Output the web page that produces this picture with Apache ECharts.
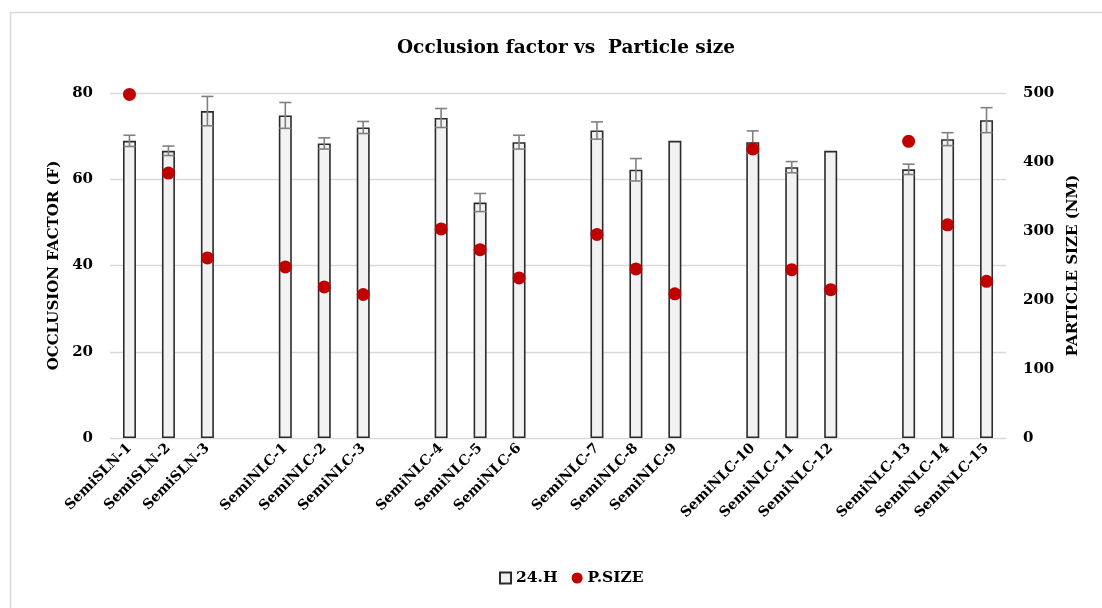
<!DOCTYPE html>
<html>
<head>
<meta charset="utf-8">
<script src="https://cdn.jsdelivr.net/npm/echarts@6/dist/echarts.min.js"></script>
<style>
html,body{margin:0;padding:0;background:#fff;}
#chart{width:1102px;height:608px;}
</style>
</head>
<body>
<div id="chart"></div>
<script>
// ---- data ----
const categories = ['SemiSLN-1','SemiSLN-2','SemiSLN-3','',
  'SemiNLC-1','SemiNLC-2','SemiNLC-3','',
  'SemiNLC-4','SemiNLC-5','SemiNLC-6','',
  'SemiNLC-7','SemiNLC-8','SemiNLC-9','',
  'SemiNLC-10','SemiNLC-11','SemiNLC-12','',
  'SemiNLC-13','SemiNLC-14','SemiNLC-15'];
const occlusion24h = [68.9,66.6,75.8,null,
  74.8,68.3,72.0,null,
  74.2,54.6,68.6,null,
  71.3,62.2,68.9,null,
  68.6,62.8,66.6,null,
  62.3,69.3,73.7];
const occlusionErr = [1.3,1.1,3.4,null,
  3.0,1.3,1.4,null,
  2.2,2.1,1.6,null,
  2.0,2.6,0,null,
  2.6,1.3,0,null,
  1.2,1.5,2.9];
const particleSize = [498,384,261,null,
  248,219,208,null,
  303,273,232,null,
  295,245,209,null,
  419,244,215,null,
  430,309,227];
const leftTicks = {min:0,max:80,interval:20};
const rightTicks = {min:0,max:500,interval:100};

const FONT = '"DejaVu Serif", "Liberation Serif", serif';
const errData = [];
occlusion24h.forEach((v,i)=>{ if(v!=null && occlusionErr[i]>0) errData.push([i, v-occlusionErr[i], v+occlusionErr[i]]); });

const chart = echarts.init(document.getElementById('chart'));
chart.setOption({
  animation:false,
  backgroundColor:'#ffffff',
  graphic:[{type:'rect',shape:{x:10.5,y:12.5,width:1200,height:700},style:{fill:'none',stroke:'#d9d9d9',lineWidth:1.5},silent:true}],
  title:{text:'Occlusion factor vs  Particle size',left:392,top:34,
    textStyle:{fontFamily:FONT,fontWeight:'bold',fontSize:18.5,color:'#000'}},
  legend:{bottom:17,left:494,itemGap:14,itemWidth:11,itemHeight:11,
    textStyle:{fontFamily:FONT,fontWeight:'bold',fontSize:15.5,color:'#000'},
    data:[{name:'24.H',icon:'rect'},{name:'P.SIZE',icon:'circle'}]},
  grid:{left:110,right:96,top:93,bottom:170,containLabel:false},
  xAxis:{type:'category',data:categories,
    axisLine:{show:true,lineStyle:{color:'#d9d9d9',width:1}},
    axisTick:{show:false},
    axisLabel:{interval:0,rotate:45,margin:8,fontFamily:FONT,fontWeight:'bold',fontSize:14,color:'#000'}},
  yAxis:[
    {type:'value',min:leftTicks.min,max:leftTicks.max,interval:leftTicks.interval,
      name:'OCCLUSION FACTOR (F)',nameLocation:'middle',nameGap:48,nameRotate:90,
      nameTextStyle:{fontFamily:FONT,fontWeight:'bold',fontSize:15,color:'#000'},
      axisLine:{show:false},axisTick:{show:false},
      axisLabel:{margin:17,fontFamily:FONT,fontWeight:'bold',fontSize:15,color:'#000'},
      splitLine:{lineStyle:{color:'#d9d9d9',width:1.3}}},
    {type:'value',min:rightTicks.min,max:rightTicks.max,interval:rightTicks.interval,position:'right',
      name:'PARTICLE SIZE (NM)',nameLocation:'middle',nameGap:56,nameRotate:90,
      nameTextStyle:{fontFamily:FONT,fontWeight:'bold',fontSize:15,color:'#000'},
      axisLine:{show:false},axisTick:{show:false},
      axisLabel:{margin:17,fontFamily:FONT,fontWeight:'bold',fontSize:15,color:'#000'},
      splitLine:{show:false}}
  ],
  series:[
    {name:'24.H',type:'bar',yAxisIndex:0,barWidth:13,data:occlusion24h,
      itemStyle:{color:'#f2f2f2',borderColor:'#2b2b2b',borderWidth:1.6},z:2},
    {name:'err',type:'custom',yAxisIndex:0,data:errData,z:3,
      renderItem:function(params,api){
        const x = api.coord([api.value(0),0])[0];
        const lo = api.coord([api.value(0),api.value(1)])[1];
        const hi = api.coord([api.value(0),api.value(2)])[1];
        const hw = 6;
        const st = {stroke:'#808080',lineWidth:1.6};
        return {type:'group',children:[
          {type:'line',shape:{x1:x,y1:lo,x2:x,y2:hi},style:st},
          {type:'line',shape:{x1:x-hw,y1:lo,x2:x+hw,y2:lo},style:st},
          {type:'line',shape:{x1:x-hw,y1:hi,x2:x+hw,y2:hi},style:st}
        ]};
      }},
    {name:'P.SIZE',type:'scatter',yAxisIndex:1,data:particleSize,symbolSize:13,
      itemStyle:{color:'#c00000',opacity:1},z:4}
  ]
});
</script>
</body>
</html>
